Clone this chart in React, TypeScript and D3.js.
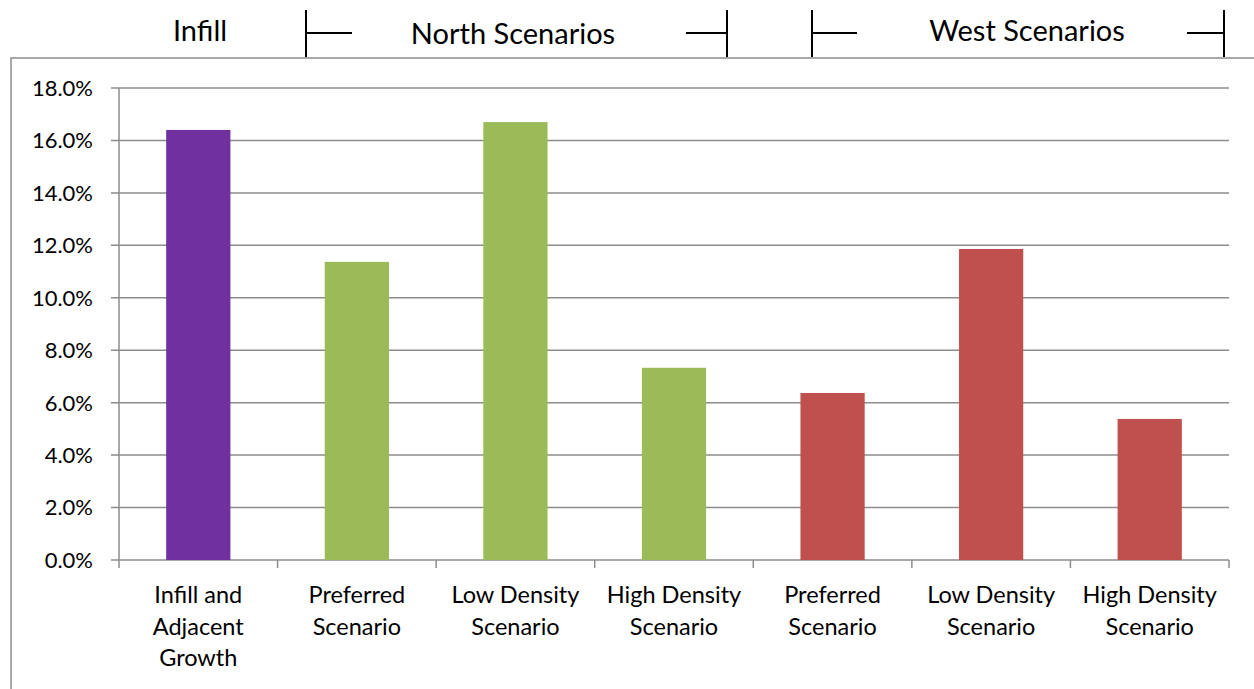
import * as d3 from 'd3';

const width = 1254;
const height = 689;

const categories = [
  ['Infill and', 'Adjacent', 'Growth'],
  ['Preferred', 'Scenario'],
  ['Low Density', 'Scenario'],
  ['High Density', 'Scenario'],
  ['Preferred', 'Scenario'],
  ['Low Density', 'Scenario'],
  ['High Density', 'Scenario'],
];
const values = [0.164, 0.1137, 0.167, 0.0733, 0.0637, 0.1186, 0.0538];
const groups = ['Infill', 'North', 'North', 'North', 'West', 'West', 'West'];
const yTicks = [0, 0.02, 0.04, 0.06, 0.08, 0.1, 0.12, 0.14, 0.16, 0.18];

const colors: Record<string, string> = {
  Infill: '#7030A0',
  North: '#9BBB59',
  West: '#C0504D',
};

const plot = { left: 119, right: 1229, top: 88, bottom: 560 };
const font = 'Lato, "Open Sans", sans-serif';
const gridColor = '#8c8c8c';

const x = d3
  .scaleBand<number>()
  .domain(d3.range(categories.length))
  .range([plot.left, plot.right]);
const y = d3.scaleLinear().domain([0, 0.18]).range([plot.bottom, plot.top]);
const fmt = d3.format('.1%');

const App = () => {
  const bw = x.bandwidth();
  const barW = bw * 0.405;
  const bounds = d3.range(categories.length + 1).map(i => plot.left + i * bw);

  return (
    <svg width={width} height={height} style={{ position: 'absolute', left: 0, top: 0 }}>
      <rect width={width} height={height} fill="#fff" />
      {/* outer frame */}
      <path d={`M11,${height} V58 H${width}`} fill="none" stroke="#8c8c8c" strokeWidth={1.5} />

      {/* gridlines */}
      {yTicks.map(t => (
        <line key={t} x1={plot.left - 8} x2={plot.right} y1={y(t)} y2={y(t)} stroke={gridColor} strokeWidth={1.5} />
      ))}
      <line x1={plot.left} x2={plot.left} y1={plot.top} y2={plot.bottom + 8} stroke={gridColor} strokeWidth={1.5} />
      {bounds.slice(1).map((b, i) => (
        <line key={i} x1={b} x2={b} y1={plot.bottom} y2={plot.bottom + 8} stroke={gridColor} strokeWidth={1.5} />
      ))}

      {/* tick labels */}
      {yTicks.map(t => (
        <text key={t} x={93} y={y(t)} dy="0.36em" textAnchor="end" fontFamily={font} fontSize={22} fill="#000">
          {fmt(t)}
        </text>
      ))}

      {/* bars */}
      {values.map((v, i) => (
        <rect
          key={i}
          x={(x(i) as number) + (bw - barW) / 2}
          y={y(v)}
          width={barW}
          height={y(0) - y(v)}
          fill={colors[groups[i]]}
        />
      ))}

      {/* category labels */}
      {categories.map((lines, i) => (
        <text key={i} x={(x(i) as number) + bw / 2} textAnchor="middle" fontFamily={font} fontSize={23.5} fill="#000">
          {lines.map((l, j) => (
            <tspan key={j} x={(x(i) as number) + bw / 2} y={603 + j * 31.5}>
              {l}
            </tspan>
          ))}
        </text>
      ))}

      {/* header group labels */}
      <g fontFamily={font} fontSize={29} fill="#000" textAnchor="middle">
        <text x={200} y={41}>Infill</text>
        <text x={513} y={44}>North Scenarios</text>
        <text x={1027} y={41}>West Scenarios</text>
      </g>
      <g stroke="#000" strokeWidth={2} fill="none">
        <path d="M306,10 V57 M306,33 H352" />
        <path d="M727,10 V57 M727,33 H686" />
        <path d="M812,10 V57 M812,33 H857" />
        <path d="M1224,10 V57 M1224,33 H1187" />
      </g>
    </svg>
  );
};

export default App;
